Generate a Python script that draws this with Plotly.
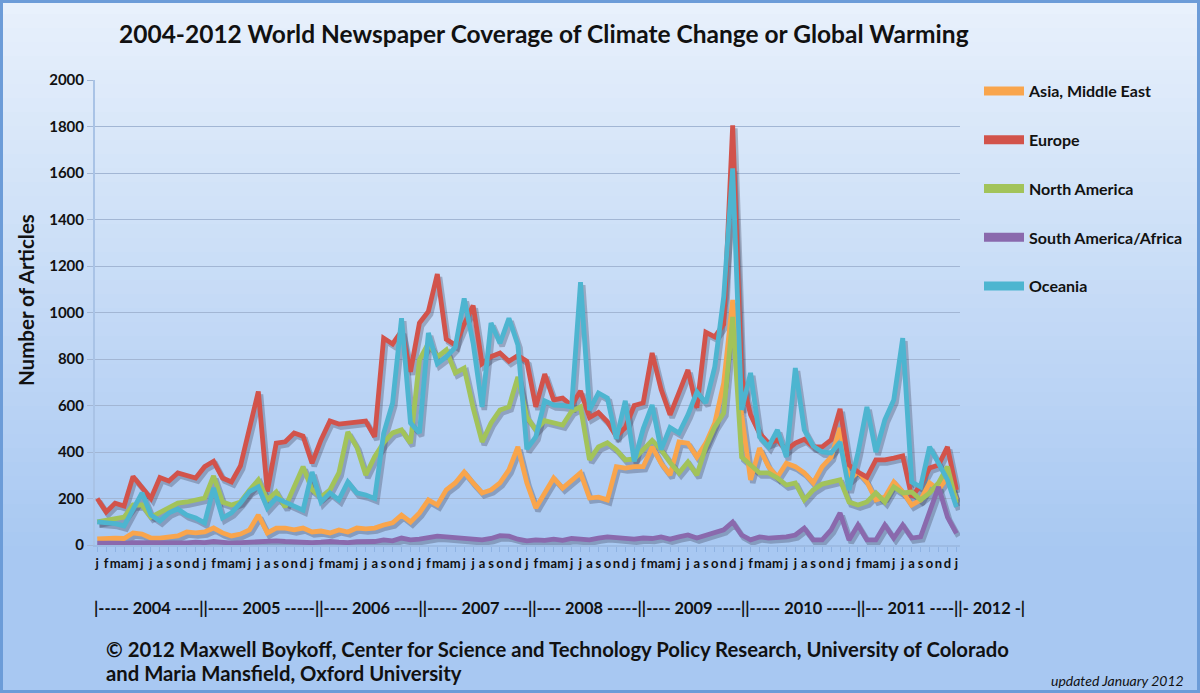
import plotly.graph_objects as go

# month letters along the x axis, jan 2004 .. jan 2012
months = ["j", "f", "m", "a", "m", "j", "j", "a", "s", "o", "n", "d"] * 8 + ["j"]
month_index = list(range(len(months)))

asia = [26, 30, 30, 28, 52, 47, 30, 30, 35, 39, 56, 52,
        56, 73, 52, 39, 47, 65, 129, 52, 73, 73, 65, 73,
        56, 60, 52, 65, 56, 73, 69, 73, 86, 95, 129, 99,
        138, 194, 172, 237, 267, 314, 267, 224, 237, 267, 323, 422,
        267, 159, 224, 288, 245, 280, 310, 202, 206, 194, 337, 331,
        337, 337, 422, 352, 301, 443, 438, 378, 438, 525, 697, 1054,
        560, 280, 417, 337, 292, 352, 337, 310, 267, 337, 378, 503,
        280, 314, 271, 194, 206, 271, 228, 172, 194, 267, 237, 292,
        194]
europe = [200, 142, 180, 168, 295, 245, 200, 290, 275, 310, 300, 288,
          337, 360, 288, 271, 340, 500, 660, 230, 438, 444, 482, 468,
          352, 452, 533, 520, 524, 526, 533, 465, 890, 865, 920, 745,
          955, 1005, 1165, 885, 860, 950, 1030, 780, 810, 826, 790, 815,
          790, 594, 735, 624, 632, 600, 662, 548, 570, 530, 468, 505,
          600, 611, 826, 670, 560, 655, 753, 590, 915, 895, 950, 1805,
          720, 560, 480, 438, 452, 408, 438, 455, 422, 422, 452, 585,
          344, 314, 292, 366, 366, 374, 383, 206, 258, 331, 344, 422,
          237]
north_america = [99, 107, 112, 120, 172, 172, 120, 142, 163, 180, 185, 194,
                 202, 297, 185, 172, 185, 235, 280, 194, 228, 163, 245, 337,
                 237, 206, 237, 310, 486, 422, 301, 380, 440, 482, 495, 438,
                 796, 868, 809, 839, 740, 761, 590, 443, 525, 581, 594, 723,
                 550, 495, 535, 525, 516, 575, 594, 366, 422, 440, 410, 366,
                 370, 410, 450, 410, 355, 310, 357, 301, 422, 508, 568, 981,
                 378, 344, 310, 310, 288, 258, 267, 194, 237, 262, 271, 280,
                 185, 172, 185, 224, 185, 250, 224, 228, 194, 224, 267, 337,
                 180]
south_america_africa = [8, 6, 8, 7, 10, 9, 8, 10, 8, 10, 9, 12,
                        10, 15, 10, 8, 10, 12, 15, 12, 18, 15, 12, 14,
                        10, 12, 15, 12, 10, 14, 12, 15, 22, 18, 30, 22,
                        25, 30, 38, 35, 32, 30, 25, 22, 28, 40, 38, 25,
                        18, 22, 20, 25, 20, 28, 25, 22, 30, 35, 32, 30,
                        25, 30, 28, 35, 25, 35, 43, 30, 43, 56, 65, 99,
                        43, 22, 35, 30, 30, 35, 43, 73, 22, 22, 65, 138,
                        22, 86, 22, 22, 86, 30, 86, 30, 35, 150, 250, 120,
                        50]
oceania = [99, 95, 92, 82, 150, 224, 129, 103, 138, 155, 129, 116,
           95, 245, 116, 138, 180, 230, 250, 159, 202, 185, 172, 150,
           314, 185, 224, 194, 271, 224, 215, 200, 480, 611, 975, 525,
           482, 912, 780, 809, 850, 1060, 868, 594, 955, 868, 975, 860,
           412, 465, 620, 602, 600, 594, 1130, 580, 654, 632, 456, 620,
           360, 500, 602, 410, 505, 482, 560, 658, 611, 766, 1067, 1620,
           581, 740, 465, 422, 495, 378, 761, 495, 425, 400, 396, 443,
           237, 396, 594, 400, 538, 624, 890, 271, 250, 422, 352, 280,
           163]

y_ticks = [0, 200, 400, 600, 800, 1000, 1200, 1400, 1600, 1800, 2000]

year_row = ("|----- 2004 ----||----- 2005 -----||---- 2006 ----||----- 2007 ----||"
            "---- 2008 -----||---- 2009 ----||----- 2010 -----||--- 2011 ----||- 2012 -|")

series = [
    ("Asia, Middle East", asia, "#f9a54c"),
    ("Europe", europe, "#d2534b"),
    ("North America", north_america, "#a2c35a"),
    ("South America/Africa", south_america_africa, "#8a69ad"),
    ("Oceania", oceania, "#4db5d0"),
]

W, H = 1200, 693
L, R, T, B = 95, 960, 80, 545
FONT = "Lato"


def fx(p):
    return (p - L) / (R - L)


def fy(p):
    return (B - p) / (B - T)


fig = go.Figure()

# drop shadows on the base axes (range nudged so they sit a few px down-right)
for name, vals, col in series:
    fig.add_trace(go.Scatter(
        x=month_index, y=vals, mode="lines", xaxis="x", yaxis="y",
        line=dict(color="rgba(40,40,60,0.28)", width=5.5),
        showlegend=False, hoverinfo="skip"))

for name, vals, col in series:
    fig.add_trace(go.Scatter(
        x=month_index, y=vals, mode="lines", name=name, xaxis="x2", yaxis="y2",
        line=dict(color=col, width=4.8), showlegend=False))

# legend swatches
for name, vals, col in series:
    fig.add_trace(go.Scatter(
        x=[None], y=[None], mode="lines", name=name, xaxis="x2", yaxis="y2",
        line=dict(color=col, width=9), legendgroup=name))

# background gradient, light at the top, blue at the bottom
shapes = []
top_c = (232, 241, 252)
bot_c = (168, 200, 242)
n = 40
for k in range(n):
    t = k / (n - 1)
    c = tuple(int(top_c[j] + (bot_c[j] - top_c[j]) * t) for j in range(3))
    y0 = 560 * k / n
    y1 = H if k == n - 1 else 560 * (k + 1) / n + 1
    shapes.append(dict(type="rect", xref="paper", yref="paper", layer="below",
                       x0=fx(0), x1=fx(W), y0=fy(y0), y1=fy(y1),
                       fillcolor="rgb(%d,%d,%d)" % c, line=dict(width=0)))
shapes.append(dict(type="rect", xref="paper", yref="paper", layer="below",
                   x0=fx(1.5), x1=fx(W - 1.5), y0=fy(1.5), y1=fy(H - 1.5),
                   line=dict(color="#6c9cd8", width=3)))

dx = 2.2 / ((R - L) / 96.65)
dy = 3.0 / ((B - T) / 2000)
x_range = [-0.25, 96.4]

fig.update_layout(
    width=W, height=H, autosize=False,
    margin=dict(l=L, r=W - R, t=T, b=H - B, pad=0),
    paper_bgcolor="#d6e5f8",
    plot_bgcolor="#ebf1fa",
    font=dict(family=FONT, color="#111111"),
    shapes=shapes,
    xaxis=dict(range=[x_range[0] - dx, x_range[1] - dx], visible=False, fixedrange=True),
    yaxis=dict(range=[0 + dy, 2000 + dy], visible=False, fixedrange=True),
    xaxis2=dict(overlaying="x", anchor="y2", side="bottom", range=x_range,
                tickmode="array", tickvals=month_index, ticktext=months, tickangle=0,
                tickfont=dict(family=FONT, size=13, color="#111111", weight="bold"),
                ticks="outside", ticklen=5, tickcolor="#8fb3e3", tickwidth=1,
                showline=True, linecolor="#9dbbe3", linewidth=2,
                showgrid=False, zeroline=False),
    yaxis2=dict(overlaying="y", anchor="x2", side="left", range=[0, 2000],
                tickmode="array", tickvals=y_ticks,
                tickfont=dict(family=FONT, size=15, color="#111111", weight="bold"),
                ticks="outside", ticklen=6, tickcolor="#a2b6d4",
                showline=True, linecolor="#a9c3e6", linewidth=2,
                showgrid=True, gridcolor="#a2b6d4", gridwidth=1.3, zeroline=False),
    legend=dict(x=fx(979), y=fy(74), xanchor="left", yanchor="top",
                bgcolor="rgba(0,0,0,0)", borderwidth=0, itemwidth=40,
                tracegroupgap=25,
                font=dict(family=FONT, size=16, color="#111111", weight="bold")),
    showlegend=True,
)

ann = [
    dict(text="2004-2012 World Newspaper Coverage of Climate Change or Global Warming",
         x=fx(544), y=fy(33), size=24.5, xanchor="center"),
    dict(text=year_row, x=fx(92), y=fy(607), size=16.4, xanchor="left"),
    dict(text="© 2012 Maxwell Boykoff, Center for Science and Technology Policy Research, University of Colorado",
         x=fx(104), y=fy(649), size=20.3, xanchor="left"),
    dict(text="and Maria Mansfield, Oxford University",
         x=fx(104), y=fy(673), size=20.3, xanchor="left"),
]
for a in ann:
    fig.add_annotation(text=a["text"], xref="paper", yref="paper", x=a["x"], y=a["y"],
                       xanchor=a["xanchor"], yanchor="middle", showarrow=False,
                       font=dict(family=FONT, size=a["size"], color="#111111", weight="bold"))

fig.add_annotation(text="Number of Articles", xref="paper", yref="paper",
                   x=fx(26), y=fy(300), textangle=-90, showarrow=False,
                   xanchor="center", yanchor="middle",
                   font=dict(family=FONT, size=20.5, color="#111111", weight="bold"))
fig.add_annotation(text="<i>updated January 2012</i>", xref="paper", yref="paper",
                   x=fx(1186), y=fy(680), xanchor="right", yanchor="middle", showarrow=False,
                   font=dict(family=FONT, size=14, color="#111111"))

# the page's default body margin would push the 1200x693 figure off the window
fig.write_html("out.html", config={"displayModeBar": False},
               post_script="document.body.style.margin='0';")
